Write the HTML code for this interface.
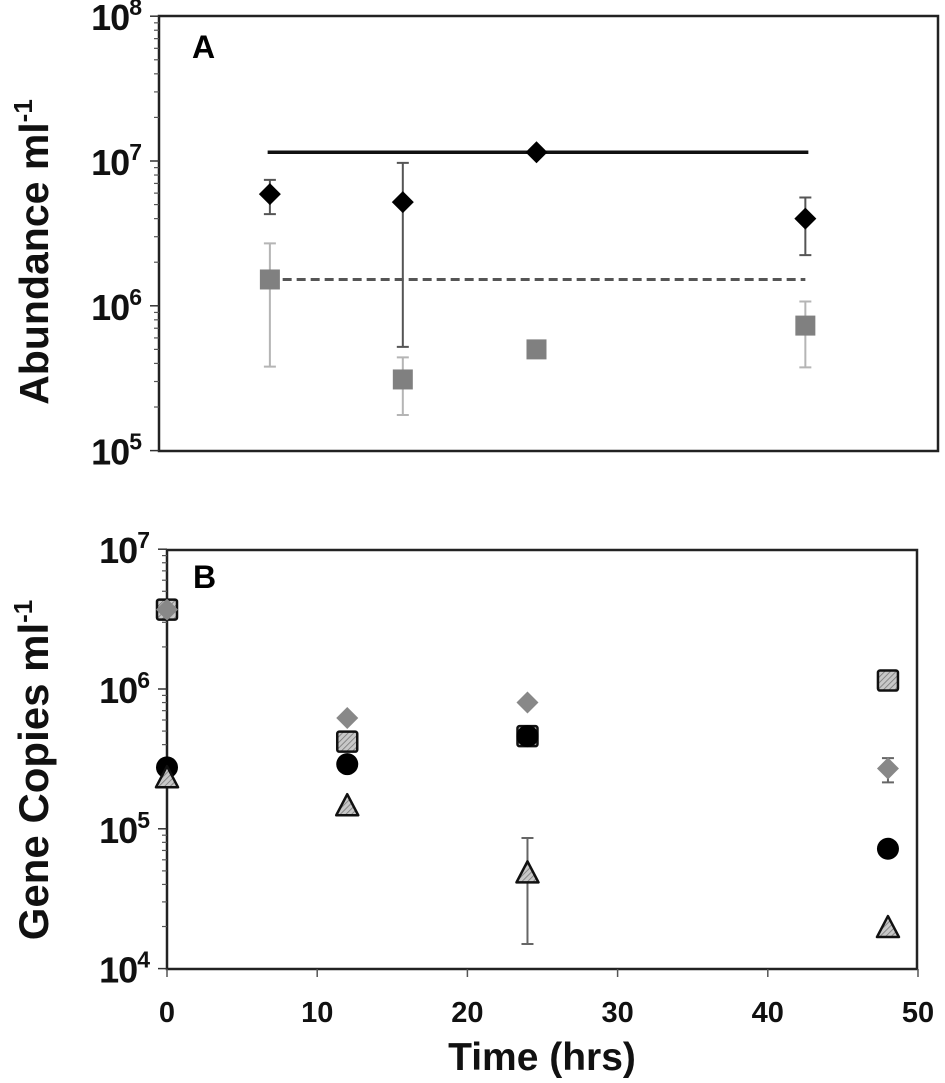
<!DOCTYPE html>
<html><head><meta charset="utf-8"><style>
html,body{margin:0;padding:0;background:#fff;}
svg{display:block;font-family:"Liberation Sans",Arial,sans-serif;font-weight:bold;}
</style></head><body>
<svg id="chart" width="945" height="1083" viewBox="0 0 945 1083" xmlns="http://www.w3.org/2000/svg">
<defs>
<pattern id="hatch" patternUnits="userSpaceOnUse" width="4" height="4" patternTransform="rotate(45)">
<rect width="4" height="4" fill="#c8c8c8"/><line x1="0" y1="0" x2="0" y2="4" stroke="#777" stroke-width="1.6"/>
</pattern>
</defs>
<g id="panelA"></g>
<g id="panelB"></g>
</svg>
<script>
// Panel A data
const aTimes = [6.85, 15.7, 24.6, 42.5];
const aDiamond = [5.9e6, 5.2e6, 1.15e7, 4.0e6];
const aDiamondHi = [7.4e6, 9.7e6, null, 5.6e6];
const aDiamondLo = [4.3e6, 5.2e5, null, 2.24e6];
const aSquare = [1.52e6, 3.1e5, 5.0e5, 7.3e5];
const aSquareHi = [2.7e6, 4.4e5, null, 1.07e6];
const aSquareLo = [3.8e5, 1.76e5, null, 3.76e5];
const aSolidLine = 1.15e7;
const aDashLine = 1.52e6;
const aLineRange = [6.7, 42.7];
const aDashRange = [7.7, 42.5];
const aYTicks = [5, 6, 7, 8];
// Panel B data
const bTimes = [0, 12, 24, 48];
const bSquare = [3.7e6, 4.2e5, 4.6e5, 1.15e6];
const bDiamond = [3.7e6, 6.2e5, 8.0e5, 2.7e5];
const bDiamondHi = [null, null, null, 3.2e5];
const bDiamondLo = [null, null, null, 2.15e5];
const bCircle = [2.75e5, 2.9e5, 4.6e5, 7.2e4];
const bTriangle = [2.3e5, 1.45e5, 4.8e4, 1.95e4];
const bTriangleHi = [null, null, 8.6e4, null];
const bTriangleLo = [null, null, 1.5e4, null];
const bXTicks = [0, 10, 20, 30, 40, 50];
const bYTicks = [4, 5, 6, 7];

const NS = "http://www.w3.org/2000/svg";
function mk(parent, tag, attrs, text) {
  const e = document.createElementNS(NS, tag);
  for (const k in attrs) e.setAttribute(k, attrs[k]);
  if (text !== undefined) e.textContent = text;
  parent.appendChild(e);
  return e;
}
const xs = t => 167 + 15.02 * t;
const yA = v => 161 - 144.8 * (Math.log10(v) - 7);
const yB = v => 689 - 139.8 * (Math.log10(v) - 6);

function yAxis(g, left, yf, ticks, nameP) {
  ticks.forEach((p, i) => {
    const y = yf(Math.pow(10, p));
    const tk = mk(g, "line", {x1: left - 9, x2: left, y1: y, y2: y, stroke: "#333", "stroke-width": 1.5});
    
    
    const t = mk(g, "text", {x: left - 18, y: y + 14, "text-anchor": "end", "font-size": 36, fill: "#111", "letter-spacing": -1});
    
    
    mk(t, "tspan", {}, "10");
    mk(t, "tspan", {dy: -15, "font-size": 23}, String(p));
    if (i < ticks.length - 1) {
      for (let m = 2; m <= 9; m++) {
        const ym = yf(m * Math.pow(10, p));
        const mt = mk(g, "line", {x1: left - 5, x2: left, y1: ym, y2: ym, stroke: "#555", "stroke-width": 1.2});
        
        
      }
    }
  });
}
function errBar(g, x, hi, lo, yf, color, name) {
  if (hi == null) return;
  const y1 = yf(hi), y2 = yf(lo);
  const l = mk(g, "path", {d: `M${x},${y1}V${y2}M${x-6},${y1}H${x+6}M${x-6},${y2}H${x+6}`, stroke: color, "stroke-width": 2, fill: "none"});
  
  
}
function diamond(g, x, y, r, fill, name) {
  const d = mk(g, "polygon", {points: `${x},${y-r} ${x+r},${y} ${x},${y+r} ${x-r},${y}`, fill: fill});
  
  
}

// Panel A
const gA = document.getElementById("panelA");
const boxA = mk(gA, "rect", {x: 159, y: 16, width: 779, height: 435, fill: "none", stroke: "#222", "stroke-width": 2.5});


yAxis(gA, 159, yA, aYTicks, 'y-axis-a');
const la = mk(gA, "text", {x: 192, y: 58, "font-size": 32, fill: "#000"}, "A");


const tA = mk(gA, "text", {transform: "translate(48,252) rotate(-90)", "text-anchor": "middle", "font-size": 41, fill: "#111"});


mk(tA, "tspan", {}, "Abundance ml");
mk(tA, "tspan", {dy: -16, "font-size": 26}, "-1");
const sl = mk(gA, "line", {x1: xs(aLineRange[0]), x2: xs(aLineRange[1]), y1: yA(aSolidLine), y2: yA(aSolidLine), stroke: "#111", "stroke-width": 3.5});


const dl = mk(gA, "line", {x1: xs(aDashRange[0]), x2: xs(aDashRange[1]), y1: yA(aDashLine), y2: yA(aDashLine), stroke: "#555", "stroke-width": 3, "stroke-dasharray": "9,5"});


aTimes.forEach((t, i) => {
  const x = xs(t);
  errBar(gA, x, aSquareHi[i], aSquareLo[i], yA, "#b5b5b5", 'square-error-bar');
  errBar(gA, x, aDiamondHi[i], aDiamondLo[i], yA, "#555", 'diamond-error-bar');
  const s = mk(gA, "rect", {x: x - 10, y: yA(aSquare[i]) - 10, width: 20, height: 20, fill: "#808080"});
  
  
  diamond(gA, x, yA(aDiamond[i]), 11, "#000", 'black-diamond-point');
});

// Panel B
const gB = document.getElementById("panelB");
const boxB = mk(gB, "rect", {x: 167, y: 550, width: 750, height: 419, fill: "none", stroke: "#222", "stroke-width": 2.5});


yAxis(gB, 167, yB, bYTicks, 'y-axis-b');
bXTicks.forEach(t => {
  const x = xs(t);
  const tk = mk(gB, "line", {x1: x, x2: x, y1: 969, y2: 977, stroke: "#555", "stroke-width": 1.5});
  
  
  const lb = mk(gB, "text", {x: x, y: 1022, "text-anchor": "middle", "font-size": 29, fill: "#111"}, String(t));
  
  
});
const lbB = mk(gB, "text", {x: 193, y: 588, "font-size": 32, fill: "#000"}, "B");


const tB = mk(gB, "text", {transform: "translate(48,770) rotate(-90)", "text-anchor": "middle", "font-size": 42, fill: "#111"});


mk(tB, "tspan", {}, "Gene Copies ml");
mk(tB, "tspan", {dy: -16, "font-size": 26}, "-1");
const xt = mk(gB, "text", {x: 542, y: 1070, "text-anchor": "middle", "font-size": 39, fill: "#111"}, "Time (hrs)");


bTimes.forEach((t, i) => {
  const x = xs(t);
  errBar(gB, x, bTriangleHi[i], bTriangleLo[i], yB, "#666", 'triangle-error-bar');
  errBar(gB, x, bDiamondHi[i], bDiamondLo[i], yB, "#666", 'diamond-error-bar');
  const ys = yB(bSquare[i]);
  const s = mk(gB, "rect", {x: x - 10, y: ys - 10, width: 20, height: 20, rx: 2, fill: "url(#hatch)", stroke: "#111", "stroke-width": 2.5});
  
  
  diamond(gB, x, yB(bDiamond[i]), 11, "#888", 'gray-diamond-point');
  const yc = yB(bCircle[i]);
  const c = mk(gB, "circle", {cx: x, cy: yc, r: 11, fill: "#000"});
  
  
  const yt = yB(bTriangle[i]);
  const tr = mk(gB, "polygon", {points: `${x},${yt-12} ${x+11},${yt+9} ${x-11},${yt+9}`, fill: "url(#hatch)", stroke: "#111", "stroke-width": 2.5, "stroke-linejoin": "round"});
  
  
});
</script>
</body></html>
